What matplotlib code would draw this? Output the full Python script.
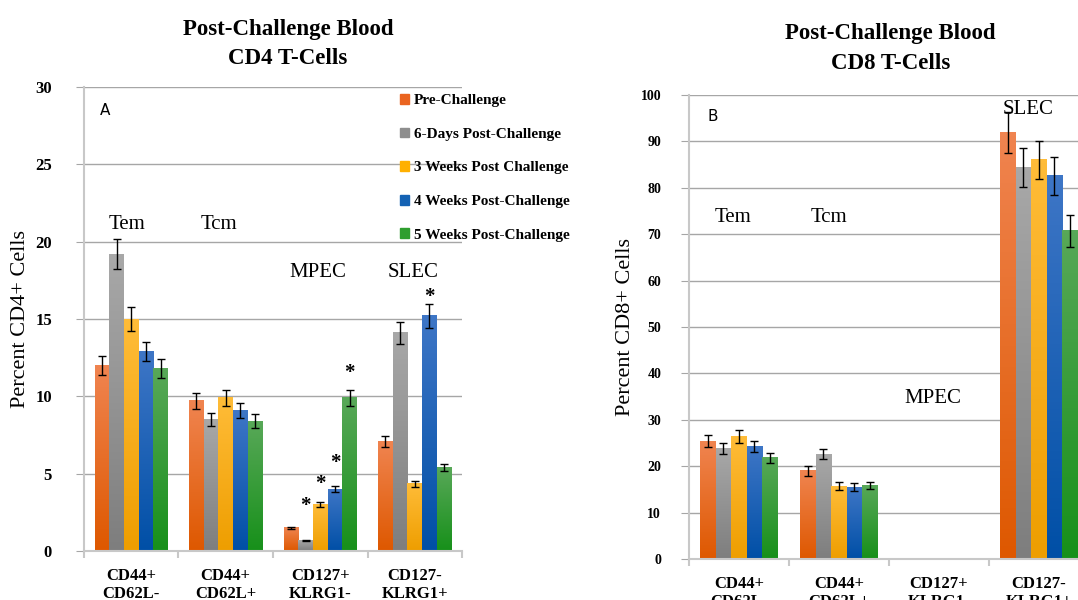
import numpy as np
import matplotlib
matplotlib.use("Agg")
import matplotlib.pyplot as plt
from matplotlib.colors import LinearSegmentedColormap
from matplotlib.patches import Patch

plt.rcParams['font.family'] = ['Liberation Serif', 'DejaVu Serif']

# 데이터
groups = ['CD44+\nCD62L-', 'CD44+\nCD62L+', 'CD127+\nKLRG1-', 'CD127-\nKLRG1+']
series = ['Pre-Challenge', '6-Days Post-Challenge', '3 Weeks Post Challenge',
          '4 Weeks Post-Challenge', '5 Weeks Post-Challenge']

cd4_vals = [[12.0, 19.2, 15.0, 12.9, 11.8],
            [9.7, 8.5, 9.9, 9.1, 8.4],
            [1.5, 0.7, 3.0, 4.0, 9.9],
            [7.1, 14.1, 4.35, 15.2, 5.4]]
cd4_err = [[0.6, 1.0, 0.75, 0.6, 0.6],
           [0.5, 0.4, 0.5, 0.5, 0.45],
           [0.05, 0.03, 0.15, 0.2, 0.5],
           [0.35, 0.7, 0.2, 0.8, 0.25]]
# 별표 위치 (그룹, 시리즈, 높이)
cd4_stars = [(2, 1, 3.2), (2, 2, 4.6), (2, 3, 6.0), (2, 4, 11.8), (3, 3, 16.7)]

cd8_vals = [[25.4, 23.9, 26.4, 24.3, 21.8],
            [19.0, 22.6, 15.7, 15.5, 15.9],
            [0.0, 0.0, 0.0, 0.0, 0.0],
            [92.0, 84.4, 86.0, 82.6, 70.7]]
cd8_err = [[1.3, 1.2, 1.3, 1.2, 1.1],
           [1.0, 1.1, 0.8, 0.8, 0.8],
           [0.0, 0.0, 0.0, 0.0, 0.0],
           [4.4, 4.2, 4.2, 4.1, 3.5]]

# 색상 (아래 진한색, 위 밝은색)
bottoms = ['#DE5800', '#7E7E7E', '#EE9E00', '#004FA6', '#17901A']
tops = ['#F08450', '#A8A8A8', '#FFBC38', '#3E76C6', '#58A858']
legend_cols = ['#EA6420', '#8E8E8E', '#FFB000', '#1462B4', '#2E9E2E']
grid_col = '#A6A6A6'

W = 0.155


def draw_panel(ax, vals, errs, ymax, ystep, fs_tick, ypad):
    for g in range(len(groups)):
        for s in range(len(series)):
            x = g + (s - 2) * W
            v = vals[g][s]
            cmap = LinearSegmentedColormap.from_list('', [bottoms[s], tops[s]])
            if v > 0:
                ax.imshow(np.linspace(0, 1, 100).reshape(-1, 1), cmap=cmap,
                          origin='lower', aspect='auto', zorder=2,
                          extent=[x - W / 2, x + W / 2, 0, v])
            if errs[g][s] > 0:
                ax.errorbar(x, v, yerr=errs[g][s], color='black', lw=1,
                            capsize=3, capthick=1, zorder=3)
    ax.set_xlim(-0.5, 3.5)
    ax.set_ylim(0, ymax)
    ax.set_yticks(np.arange(0, ymax + 1, ystep))
    ax.yaxis.grid(True, color=grid_col, lw=1)
    ax.set_axisbelow(True)
    for sp in ['top', 'right']:
        ax.spines[sp].set_visible(False)
    for sp in ['left', 'bottom']:
        ax.spines[sp].set_color('#C8C8C8')
        ax.spines[sp].set_linewidth(1.5)
    ax.tick_params(axis='y', length=6, color=grid_col, pad=ypad, labelsize=fs_tick)
    for t in ax.get_yticklabels():
        t.set_fontweight('bold')
    ax.set_xticks(range(4))
    ax.set_xticklabels(groups, fontsize=12, fontweight='bold')
    ax.set_xticks(np.arange(-0.5, 4, 1), minor=True)
    ax.tick_params(axis='x', which='major', length=0, pad=12)
    ax.tick_params(axis='x', which='minor', length=5, color='#C8C8C8', width=1.5)


fig = plt.figure(figsize=(10.78, 6), dpi=100)
ax1 = fig.add_axes([0.0779, 0.0817, 0.3507, 0.7733])
ax2 = fig.add_axes([0.6391, 0.0683, 0.371, 0.7733])

draw_panel(ax1, cd4_vals, cd4_err, 30, 5, 12, 17)
draw_panel(ax2, cd8_vals, cd8_err, 100, 10, 10, 14)

# 별표
for g, s, h in cd4_stars:
    ax1.text(g + (s - 2) * W, h - 0.3, '*', ha='center', va='center',
             fontsize=15, fontweight='bold', zorder=4)

ax1.set_ylabel('Percent CD4+ Cells', fontsize=16, labelpad=4)
ax2.set_ylabel('Percent CD8+ Cells', fontsize=16, labelpad=4)

lab_kw = dict(fontsize=15, ha='center', va='center')
ax1.text(-0.04, 21.1, 'Tem', **lab_kw)
ax1.text(0.93, 21.1, 'Tcm', **lab_kw)
ax1.text(1.97, 18.0, 'MPEC', **lab_kw)
ax1.text(2.98, 18.0, 'SLEC', **lab_kw)
ax1.text(-0.33, 28.5, 'A', fontsize=11, family='DejaVu Sans', va='center')

ax2.text(-0.06, 73.7, 'Tem', **lab_kw)
ax2.text(0.90, 73.7, 'Tcm', **lab_kw)
ax2.text(1.94, 34.7, 'MPEC', **lab_kw)
ax2.text(2.89, 96.8, 'SLEC', **lab_kw)
ax2.text(-0.31, 95.3, 'B', fontsize=11, family='DejaVu Sans', va='center')

title_kw = dict(fontsize=16.5, fontweight='bold', ha='center', va='center')
fig.text(0.267, 0.950, 'Post-Challenge Blood', **title_kw)
fig.text(0.267, 0.902, 'CD4 T-Cells', **title_kw)
fig.text(0.826, 0.944, 'Post-Challenge Blood', **title_kw)
fig.text(0.826, 0.894, 'CD8 T-Cells', **title_kw)

handles = [Patch(color=c) for c in legend_cols]
fig.legend(handles, series, loc='upper left', bbox_to_anchor=(0.358, 0.866),
           frameon=False, handlelength=0.6, handleheight=0.6, handletextpad=0.35,
           labelspacing=1.33, prop={'weight': 'bold', 'size': 11})

fig.savefig('out.png', dpi=100)
